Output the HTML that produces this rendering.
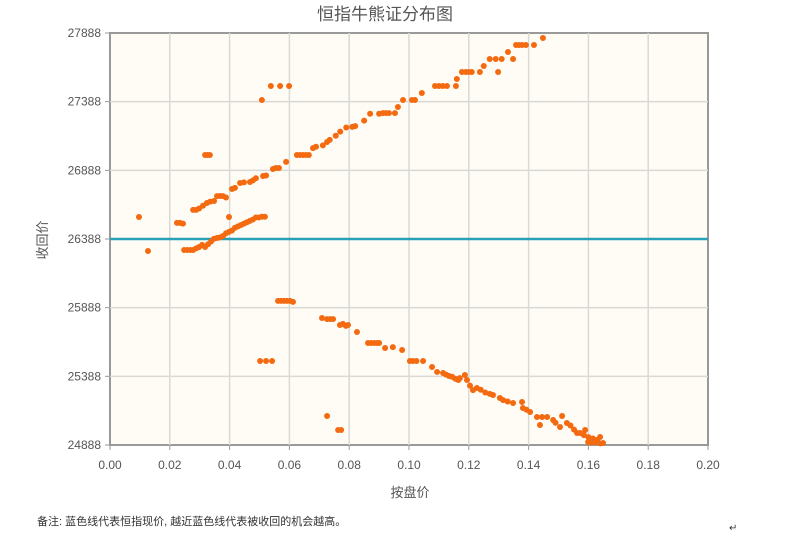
<!DOCTYPE html>
<html><head><meta charset="utf-8"><style>
body{margin:0;width:789px;height:535px;background:#fff;font-family:"Liberation Sans","Noto Sans CJK SC",sans-serif;overflow:hidden}
</style></head><body>
<svg width="789" height="535" style="position:absolute;left:0;top:0">
<text x="385" y="20" text-anchor="middle" font-size="17" fill="#555" font-family="Liberation Sans, Noto Sans CJK SC, sans-serif">恒指牛熊证分布图</text>
<rect x="111" y="34" width="598" height="412" fill="#bbb"/>
<rect x="110" y="33" width="598" height="412" fill="#fffcf5" stroke="#999" stroke-width="2"/>
<g id="grid"></g>
<g id="ticks"></g>
<g id="marks"></g>
<text x="410" y="497" text-anchor="middle" font-size="13" fill="#555" font-family="Liberation Sans, Noto Sans CJK SC, sans-serif">按盘价</text>
<text transform="translate(47,240) rotate(-90)" text-anchor="middle" font-size="13" fill="#555" font-family="Liberation Sans, Noto Sans CJK SC, sans-serif">收回价</text>
<text x="37" y="525" font-size="11" fill="#333" font-family="Liberation Sans, Noto Sans CJK SC, sans-serif">备注:  蓝色线代表恒指现价, 越近蓝色线代表被收回的机会越高。</text>
<text x="729" y="531" font-size="10" fill="#333">↵</text>
</svg>
<script>
const xTicks=[0,0.02,0.04,0.06,0.08,0.10,0.12,0.14,0.16,0.18,0.20];
const xTickLabels=["0.00","0.02","0.04","0.06","0.08","0.10","0.12","0.14","0.16","0.18","0.20"];
const yTicks=[24888,25388,25888,26388,26888,27388,27888];
const currentPrice=26388;
const pointsX=[0.0097,0.0127,0.0224,0.0234,0.0244,
0.0248,0.0258,0.0268,0.0278,0.0288,0.0298,0.0308,0.0318,0.0328,0.0338,0.0348,0.0358,0.0368,0.0378,0.0388,0.0398,0.0408,0.0418,0.0428,0.0438,0.0448,0.0458,0.0468,0.0478,0.0488,0.0498,0.0508,0.0518,0.0398,
0.0278,0.0288,0.0298,0.0311,0.0324,0.0335,0.0348,0.0358,0.0368,0.0378,0.0388,0.0408,0.0418,0.0435,0.0448,0.0468,0.0478,0.0488,0.0512,0.0522,0.0545,0.0555,0.0565,0.0589,0.0625,0.0635,0.0645,0.0655,0.0665,0.0679,0.0689,0.0712,0.0726,0.0735,0.0755,0.0770,0.0790,0.0810,0.0820,0.0850,0.0870,0.0900,0.0913,0.0923,0.0933,0.0953,0.0963,0.0980,0.1010,0.1020,0.1043,0.1087,0.1100,0.1113,0.1127,0.1157,0.1160,0.1177,0.1190,0.1200,0.1210,0.1237,0.1250,0.1270,0.1290,0.1310,0.1298,0.1331,0.1348,0.1358,0.1368,0.1378,0.1391,0.1418,0.1448,
0.0318,0.0326,0.0334,0.0508,0.0538,0.0569,0.0599,
0.0562,0.0572,0.0582,0.0592,0.0602,0.0612,0.0502,0.0522,0.0542,
0.0709,0.0726,0.0736,0.0746,0.0769,0.0779,0.0789,0.0796,0.0826,0.0863,0.0873,0.0883,0.0893,0.0900,0.0920,0.0946,0.0977,0.1003,0.1013,0.1025,0.1047,
0.1077,0.1094,0.1114,0.1124,0.1134,0.1144,0.1155,0.1165,0.1170,0.1187,0.1194,0.1204,0.1214,0.1227,0.1240,0.1255,0.1270,0.1281,0.1304,0.1315,0.1330,0.1348,0.1378,0.1381,0.1393,0.1405,0.1428,0.1438,0.1445,0.1462,0.1482,0.1490,0.1505,0.1512,0.1528,0.1540,0.1552,0.1562,0.1589,0.1572,0.1585,0.1600,0.1615,0.1629,0.1639,0.1599,0.1610,0.1625,0.1640,0.1649,
0.0726,0.0763,0.0773];
const pointsY=[26548,26301,26505,26505,26500,
26308,26308,26308,26308,26320,26330,26345,26330,26350,26370,26390,26395,26400,26410,26430,26440,26450,26470,26480,26490,26500,26510,26520,26530,26545,26545,26550,26550,26548,
26600,26600,26610,26630,26650,26660,26665,26700,26701,26700,26690,26752,26760,26796,26800,26803,26815,26830,26847,26850,26898,26905,26905,26950,27000,27000,27000,27000,27000,27050,27060,27070,27094,27110,27140,27170,27200,27204,27210,27250,27300,27300,27305,27305,27305,27305,27349,27400,27400,27400,27451,27502,27502,27502,27502,27502,27553,27604,27604,27604,27604,27604,27648,27699,27699,27699,27604,27750,27699,27801,27801,27801,27801,27801,27852,
27000,27000,27000,27400,27502,27502,27502,
25937,25937,25937,25937,25937,25930,25500,25500,25500,
25813,25805,25805,25805,25762,25770,25755,25762,25711,25631,25631,25631,25631,25631,25594,25601,25580,25500,25500,25500,25500,
25456,25420,25412,25400,25390,25385,25370,25361,25375,25398,25361,25320,25288,25303,25290,25270,25260,25252,25230,25215,25205,25194,25201,25157,25145,25128,25092,25034,25092,25092,25070,25050,25019,25099,25048,25030,25000,24975,24997,24975,24960,24945,24935,24924,24946,24910,24905,24908,24900,24903,
25099,24997,24997];
const X0=110,X1=708,Y0=445,Y1=33;
const xs=v=>X0+(v-0)/(0.20)*(X1-X0);
const ys=v=>Y0-(v-24888)/(27888-24888)*(Y0-Y1);
const NS="http://www.w3.org/2000/svg";
const grid=document.getElementById('grid'),ticks=document.getElementById('ticks'),marks=document.getElementById('marks');
function mk(t,a){const e=document.createElementNS(NS,t);for(const k in a)e.setAttribute(k,a[k]);return e;}
xTicks.forEach((v,i)=>{
 const x=xs(v);
 if(i>0&&i<xTicks.length-1){const l=mk('line',{x1:x,x2:x,y1:Y1,y2:Y0,stroke:'#d9d9d6','stroke-width':1.5});
 
 
 grid.appendChild(l);}
 const tk=mk('line',{x1:x,x2:x,y1:Y0,y2:Y0+5,stroke:'#999'});
 
 
 ticks.appendChild(tk);
 const t=mk('text',{x:x,y:469,'text-anchor':'middle','font-size':12,fill:'#555'});
 
 
 t.textContent=xTickLabels[i];ticks.appendChild(t);
});
yTicks.forEach(v=>{
 const y=ys(v);
 if(v!==yTicks[0]&&v!==yTicks[yTicks.length-1]){const l=mk('line',{x1:X0,x2:X1,y1:y,y2:y,stroke:'#d9d9d6','stroke-width':1.5});
 
 
 grid.appendChild(l);}
 const tk=mk('line',{x1:X0-5,x2:X0,y1:y,y2:y,stroke:'#999'});
 
 
 ticks.appendChild(tk);
 const t=mk('text',{x:101,y:y+4,'text-anchor':'end','font-size':12,fill:'#555'});
 
 
 t.textContent=v;ticks.appendChild(t);
});
pointsX.forEach((v,i)=>{
 const c=mk('circle',{cx:xs(v),cy:ys(pointsY[i]),r:3,fill:'#f36a10'});
 
 
 marks.appendChild(c);
});
const hl=mk('line',{x1:X0,x2:X1,y1:ys(currentPrice),y2:ys(currentPrice),stroke:'#2a9fb8','stroke-width':2.5});


marks.insertBefore(hl,marks.firstChild);
</script>
</body></html>
